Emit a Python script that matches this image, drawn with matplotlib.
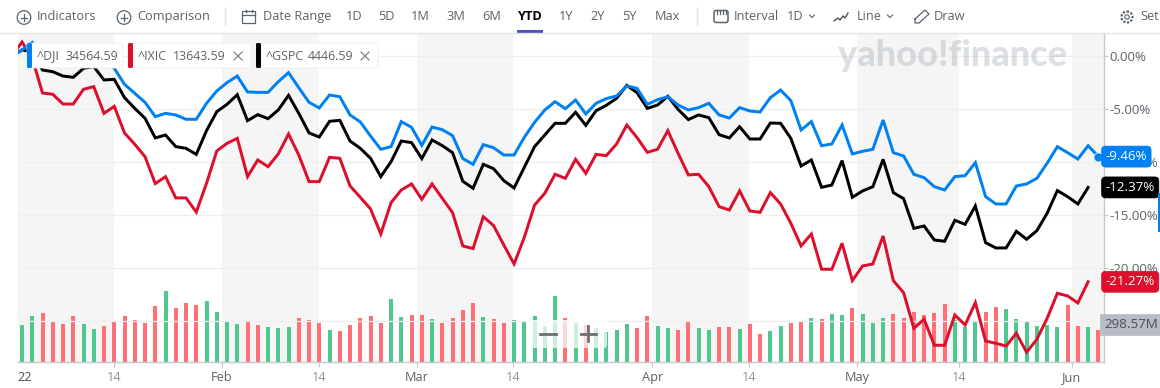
import matplotlib
matplotlib.use("Agg")
import matplotlib.pyplot as plt
from matplotlib.patches import Circle, FancyBboxPatch, Rectangle

# first entry of each series is the prior close (0 %), just left of the visible window
dji = [0.0,0.60,1.32,0.13,-0.03,-0.19,-0.19,0.44,0.60,-0.03,-1.13,-2.64,-3.49,-4.34,-5.69,-5.38,-5.53,-5.94,-5.94,-4.43,-3.27,
-2.48,-1.86,-3.36,-3.40,-3.40,-2.39,-1.54,-2.96,-4.34,-4.87,-3.65,-3.81,-5.53,-6.19,-7.52,-8.77,-8.52,-6.16,-6.70,-8.40,
-6.67,-6.92,-7.48,-9.65,-10.19,-8.33,-8.62,-9.31,-9.31,-7.64,-6.23,-5.06,-4.28,-4.94,-4.12,-5.44,-4.43,-3.99,-3.74,-2.80,
-3.02,-4.53,-4.09,-3.81,-4.59,-5.06,-4.84,-4.43,-5.53,-5.82,-4.84,-5.16,-5.25,-3.90,-3.18,-4.18,-6.95,-6.16,-8.43,-8.27,
-6.48,-9.21,-8.96,-8.77,-6.01,-9.09,-9.40,-11.13,-11.45,-12.30,-12.61,-11.35,-11.26,-10.03,-13.24,-13.93,-13.93,-12.23,-12.04,-11.51,
-10.09,-8.52,-9.09,-9.69,-8.43,-9.46]
ixic = [0.0,1.35,-0.19,-3.46,-3.58,-4.50,-4.50,-3.11,-2.86,-5.38,-4.72,-7.23,-8.30,-9.47,-12.01,-11.35,-13.36,-13.36,-14.69,-11.98,-8.93,
-8.21,-7.74,-11.35,-9.78,-10.41,-9.21,-7.33,-9.31,-11.82,-11.82,-9.53,-9.62,-12.23,-13.30,-14.40,-16.76,-13.81,-12.61,-12.04,-13.49,
-12.04,-13.40,-14.75,-17.89,-18.14,-15.13,-15.97,-17.80,-19.59,-17.08,-14.03,-12.92,-11.13,-11.51,-9.72,-11.04,-9.25,-9.37,-8.27,-6.48,
-7.67,-9.06,-8.77,-7.01,-9.15,-11.19,-11.13,-12.30,-14.18,-14.50,-12.70,-14.59,-14.72,-12.86,-13.93,-15.75,-17.89,-16.76,-20.09,-20.09,
-17.64,-21.16,-19.78,-19.59,-16.95,-21.16,-22.30,-25.66,-24.81,-27.26,-27.26,-24.40,-25.35,-23.24,-26.86,-27.08,-27.33,-26.13,-27.92,-26.70,
-24.72,-22.36,-22.61,-23.27,-21.27]
gspc = [0.0,0.60,0.44,-1.29,-1.45,-1.86,-1.98,-1.13,-0.97,-2.23,-2.17,-3.90,-4.91,-5.85,-7.70,-7.42,-8.52,-8.68,-9.25,-7.01,-5.22,
-4.53,-3.62,-6.07,-5.50,-5.88,-5.06,-3.68,-5.38,-7.23,-7.61,-6.13,-6.04,-7.99,-8.68,-9.62,-11.35,-9.94,-7.99,-8.14,-9.65,
-7.89,-8.43,-9.09,-11.79,-12.45,-10.19,-10.60,-11.73,-12.42,-10.47,-8.52,-7.42,-6.32,-6.32,-5.28,-6.51,-5.13,-4.62,-3.96,-2.74,
-3.43,-4.91,-4.59,-3.77,-5.00,-5.97,-5.53,-5.79,-7.39,-7.70,-6.64,-7.80,-7.80,-6.29,-6.32,-7.74,-10.35,-9.78,-12.36,-12.14,
-9.84,-13.30,-12.70,-12.30,-9.72,-12.86,-13.43,-16.23,-16.01,-17.33,-17.45,-15.47,-15.85,-14.12,-17.58,-18.08,-18.08,-16.51,-17.26,-16.45,
-14.81,-12.67,-13.24,-13.93,-12.37]
volume = [345,428,456,382,354,428,354,308,336,382,428,391,363,521,659,502,548,530,567,465,
382,354,382,345,326,317,326,410,391,363,299,290,345,410,428,363,585,419,437,437,
400,363,410,484,548,419,400,363,391,382,428,336,613,410,363,345,317,280,299,354,
317,428,336,317,299,382,317,299,326,326,308,354,262,290,336,363,373,407,397,444,
434,499,444,360,407,444,407,462,434,453,536,388,323,379,462,508,490,397,379,333,
342,323,527,333,323,298.57]
vol_dir = list("ggrrrrggrr" "rrrrgrrrgg" "ggrrgggrrr" "grrrrrggrr" "grrrrgrrgg"
               "gggrgrgggg" "rrggrrggrr" "grrggrrgrg" "grgggrrrrr" "rgggrrgggg" "ggrrgr")
x_ticks = [9.0,19.48,28.98,38.5,47.9,61.5,70.9,81.5,91.4,102.4]
x_labels = ["14","Feb","14","Mar","14","Apr","14","May","14","Jun"]
band_edges = [-0.44,9.0,19.48,28.98,38.5,47.9,61.5,70.9,81.5,91.4,102.4,105.5]
y_ticks = [0,-5,-10,-15,-20,-25]
legend_items = [("^DJI","34564.59"),("^IXIC","13643.59"),("^GSPC","4446.59")]

BLUE, RED, BLACK = "#0081f2", "#dc0f2d", "#000000"
GREEN_BAR, RED_BAR = "#50c78f", "#ff6f75"
FONT = "Open Sans"
plt.rcParams["font.family"] = [FONT, "DejaVu Sans"]

W, H = 1160, 388
fig = plt.figure(figsize=(W/100, H/100), dpi=100, facecolor="white")
rect = [17.5/W, 1-362.3/H, (1103.5-17.5)/W, (362.3-32.7)/H]
ax_v = fig.add_axes(rect, zorder=1)
ax = fig.add_axes(rect, zorder=2, sharex=ax_v)
ax.patch.set_alpha(0)

ax.set_xlim(-0.44, 105.5)
ax.set_ylim(-28.87, 2.23)
ax_v.set_ylim(0, 329.6*9.24)
ax_v.set_yticks([])
for a, b in zip(band_edges[0::2], band_edges[1::2]):
    ax_v.axvspan(a, b, color="#f5f5f5", lw=0, zorder=0)
xs = list(range(len(volume)))
ax_v.bar(xs, volume, width=0.39, color=[GREEN_BAR if d == "g" else RED_BAR for d in vol_dir], zorder=2)
for s in ax_v.spines.values():
    s.set_visible(False)
ax_v.tick_params(bottom=False, labelbottom=False)

ax.grid(axis="y", color="#efefef", lw=0.9)
ax.set_axisbelow(True)
for series, c in ((ixic, RED), (gspc, BLACK), (dji, BLUE)):
    ax.plot(range(-1, len(series)-1), series, color=c, lw=2.15, solid_joinstyle="miter", zorder=3)
ax.plot(len(dji)-2, dji[-1], "o", color=BLUE, ms=6.5, zorder=4, mec="white", mew=0.5)

for s in ("top", "left"):
    ax.spines[s].set_visible(False)
ax.spines["right"].set_color("#c6c8cb")
ax.spines["bottom"].set_color("#c6c8cb")
ax.spines["right"].set_linewidth(1.0)
ax.spines["bottom"].set_linewidth(1.0)
ax.yaxis.tick_right()
ax.set_yticks(y_ticks)
ax.set_yticklabels([f"{v:.2f}%" for v in y_ticks], fontsize=9.5, color="#5b636a")
ax.tick_params(axis="y", length=3, width=0.8, color="#c6c8cb", pad=1.5)
ax.set_xticks([0.3]+x_ticks)
ax.set_xticklabels(["22"]+x_labels, fontsize=9.2)
ax.tick_params(axis="x", length=3.6, width=0.8, color="#c6c8cb", pad=3)
ticks = ax.xaxis.get_major_ticks()
ticks[0].tick1line.set_visible(False)
ticks[0].label1.set_color("#4a5058")
for t, lab in zip(ticks[1:], x_labels):
    t.label1.set_color("#8d949b" if lab == "14" else "#5b636a")

# value tags on the price scale
for series, c in ((dji, BLUE), (gspc, BLACK), (ixic, RED)):
    ax.annotate(f"{series[-1]:.2f}%", xy=(1, series[-1]), xycoords=("axes fraction", "data"),
                xytext=(1.5, 0), textcoords="offset points", va="center", ha="left",
                color="white", fontsize=9.6, zorder=10, annotation_clip=False,
                bbox=dict(boxstyle="round,pad=0.3,rounding_size=0.3", fc=c, ec=c, lw=0.5))
ax.annotate(f"{volume[-1]:.2f}M", xy=(1, 0.1147), xycoords="axes fraction", xytext=(0.6, 0),
            textcoords="offset points", va="center", ha="left", color="#4a5058", fontsize=9.6,
            zorder=10, annotation_clip=False,
            bbox=dict(boxstyle="square,pad=0.3", fc="#b8bcc4", ec="#b8bcc4", lw=0.5))

# overlay: toolbar, legend chips, watermark, zoom control
ui = fig.add_axes([0, 0, 1, 1], zorder=5)
ui.set_xlim(0, W)
ui.set_ylim(H, 0)
ui.axis("off")
ui.patch.set_alpha(0)
TXT = "#5b636a"

def label(x, s, **kw):
    kw.setdefault("color", TXT)
    kw.setdefault("fontsize", 9.2)
    ui.text(x, 16.5, s, va="center", ha="left", clip_on=True, **kw)

def plus_icon(cx):
    ui.add_patch(Circle((cx, 17.5), 6.8, fc="none", ec=TXT, lw=0.9))
    ui.plot([cx-3.3, cx+3.3], [17.5, 17.5], color=TXT, lw=0.9)
    ui.plot([cx, cx], [14.2, 20.8], color=TXT, lw=0.9)

plus_icon(24)
label(37, "Indicators")
plus_icon(124)
label(137, "Comparison")
ui.plot([224.5, 224.5], [8, 25], color="#e0e4e9", lw=1)
ui.add_patch(Rectangle((242, 11), 13, 12, fc="none", ec=TXT, lw=0.9))
ui.plot([242, 255], [15, 15], color=TXT, lw=0.9)
ui.plot([245.5, 245.5], [9.5, 12], color=TXT, lw=0.9)
ui.plot([251.5, 251.5], [9.5, 12], color=TXT, lw=0.9)
label(263, "Date Range")
for x, s in [(346, "1D"), (378, "5D"), (411, "1M"), (446.5, "3M"), (482, "6M"),
             (559, "1Y"), (590.5, "2Y"), (622, "5Y"), (654.5, "Max")]:
    label(x, s)
label(517, "YTD", color="#000000", fontweight="bold")
ui.add_patch(Rectangle((517, 30), 26, 3, fc="#4d51c0", ec="none"))
ui.plot([697, 697], [8, 25], color="#e0e4e9", lw=1)
ui.add_patch(FancyBboxPatch((714, 10.5), 14, 12, boxstyle="round,pad=0,rounding_size=2", fc="none", ec=TXT, lw=1.1))
for xx in (717, 720, 723, 726):
    ui.plot([xx, xx], [10.5, 14], color=TXT, lw=0.9)
label(734, "Interval")
label(787, "1D")
def chevron(cx):
    ui.plot([cx-2.5, cx, cx+2.5], [15, 17.5, 15], color=TXT, lw=0.8)
chevron(812)
ui.plot([834, 838, 840, 843, 845, 848], [21, 18, 20, 16, 18, 13], color="#3c4148", lw=0.9)
label(857, "Line")
chevron(890)
ui.plot([915, 925, 929, 919, 915, 915], [19, 10, 14, 23, 23, 19], color=TXT, lw=0.9)
label(934, "Draw")
ui.add_patch(Circle((1127, 17), 5.5, fc="none", ec=TXT, lw=1.6, ls=(0, (1, 0.7))))
ui.add_patch(Circle((1127, 17), 2.2, fc="none", ec=TXT, lw=0.8))
label(1140, "Set")
ui.plot([0, 1160], [32.7, 32.7], color="#e0e4e9", lw=1)
ui.add_patch(Rectangle((1158.3, 193), 2, 39, fc=BLUE, ec="none"))

ui.text(838, 56, "yahoo!finance", fontsize=26, fontweight="black", family="Lato", color="#9aa3ae",
        alpha=0.34, va="center", ha="left")

chips = [(27, 123, 32, BLUE, False), (128, 251, 133, RED, True), (256, 378, 261, BLACK, True)]
for (x0, x1, bar_x, c, closable), (sym, val) in zip(chips, legend_items):
    ui.add_patch(FancyBboxPatch((x0, 43), x1-x0, 25, boxstyle="round,pad=0,rounding_size=2.5",
                                fc="white", ec="#eceef0", lw=0.6))
    ui.add_patch(FancyBboxPatch((x0, 43), bar_x-x0, 25, boxstyle="round,pad=0,rounding_size=1.5", fc=c, ec="none"))
    ui.text(bar_x+5, 56, sym, fontsize=8.9, color=TXT, va="center", ha="left")
    ui.text(x1-(5 if not closable else 25), 56, val, fontsize=8.9, color=TXT, va="center", ha="right")
    if closable:
        xc = x1-13
        ui.plot([xc-4, xc+4], [52, 60], color="#7d848b", lw=0.9)
        ui.plot([xc-4, xc+4], [60, 52], color="#7d848b", lw=0.9)

ui.add_patch(FancyBboxPatch((528, 320), 79, 28, boxstyle="round,pad=0,rounding_size=3",
                            fc="white", ec="none", alpha=0.72))
ui.plot([540, 556], [333.5, 333.5], color="#6e6e6e", lw=2)
ui.plot([580.5, 596], [333.5, 333.5], color="#6e6e6e", lw=2)
ui.plot([588.2, 588.2], [326, 341], color="#6e6e6e", lw=2)

fig.savefig("out.png", dpi=100, facecolor="white")
